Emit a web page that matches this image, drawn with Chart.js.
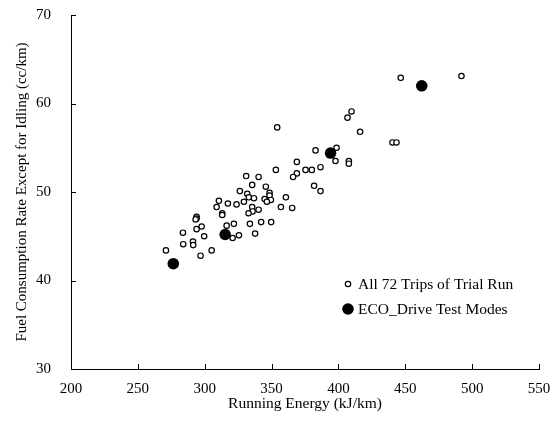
<!DOCTYPE html>
<html>
<head>
<meta charset="utf-8">
<script src="https://cdn.jsdelivr.net/npm/chart.js@4"></script>
<style>
    html, body { margin: 0; padding: 0; background: #fff; }
    #wrap { width: 556px; height: 425px; position: relative; }
</style>
</head>
<body>
<div id="wrap"><canvas id="chart"></canvas></div>
<script>
// all trips of the trial run (running energy kJ/km, fuel cc/km)
const tripX = [354.2, 382.9, 398.6, 397.8, 368.9, 353.2, 375.4, 380.1, 386.6, 368.9,
    366.1, 331.0, 340.3, 335.5, 345.7, 326.3, 331.8, 348.5, 348.5, 333.0,
    336.8, 344.8, 349.5, 346.5, 360.7, 310.6, 317.3, 323.8, 329.3, 308.9,
    335.5, 340.3, 335.8, 332.8, 357.0, 365.4, 313.1, 313.1, 293.9, 293.9,
    293.2, 297.7, 293.9, 316.4, 321.8, 333.8, 342.2, 349.7, 283.7, 299.6,
    320.9, 325.6, 337.7, 283.9, 291.2, 291.4, 305.2, 271.0, 296.9, 381.8,
    386.6, 409.8, 406.8, 416.2, 407.8, 407.8, 440.4, 443.4, 446.6, 492.0];
const tripY = [57.3, 54.7, 55.0, 53.5, 53.4, 52.5, 52.5, 52.5, 52.8, 52.1,
    51.7, 51.8, 51.7, 50.8, 50.6, 50.1, 49.8, 49.9, 49.6, 49.4,
    49.3, 49.2, 49.1, 48.9, 49.4, 49.0, 48.7, 48.6, 48.9, 48.3,
    48.3, 48.0, 47.8, 47.6, 48.3, 48.2, 47.6, 47.4, 47.2, 47.0,
    46.9, 46.1, 45.8, 46.2, 46.4, 46.4, 46.6, 46.6, 45.4, 45.0,
    44.8, 45.1, 45.3, 44.1, 44.4, 44.0, 43.4, 43.4, 42.8, 50.7,
    50.1, 59.1, 58.4, 56.8, 53.5, 53.2, 55.6, 55.6, 62.9, 63.1];

// ECO drive test modes
const ecoX = [276.5, 315.3, 394.1, 462.3];
const ecoY = [41.9, 45.2, 54.4, 62.0];

const xTicks = [200, 250, 300, 350, 400, 450, 500, 550];
const yTicks = [30, 40, 50, 60, 70];
const seriesNames = ['All 72 Trips of Trial Run', 'ECO_Drive Test Modes'];

const serif = 'Liberation Serif, Times New Roman, serif';

// ticks in this chart point into the plot area
const innerTicks = {
    id: 'innerTicks',
    afterDraw(chart) {
        const ctx = chart.ctx;
        const x = chart.scales.x, y = chart.scales.y;
        ctx.save();
        ctx.strokeStyle = '#000';
        ctx.lineWidth = 1;
        ctx.beginPath();
        xTicks.forEach(v => {
            const px = Math.round(x.getPixelForValue(v)) + 0.5;
            ctx.moveTo(px, y.bottom);
            ctx.lineTo(px, y.bottom - 5);
        });
        yTicks.forEach(v => {
            const py = Math.round(y.getPixelForValue(v)) + 0.5;
            ctx.moveTo(x.left, py);
            ctx.lineTo(x.left + 5, py);
        });
        ctx.stroke();
        ctx.restore();
    }
};

// legend sits inside the plot, lower right
const innerLegend = {
    id: 'innerLegend',
    afterDraw(chart) {
        const ctx = chart.ctx;
        const area = chart.chartArea;
        const mx = area.left + 277, tx = area.left + 287;
        const rows = [area.top + 269, area.top + 294];
        ctx.save();
        ctx.font = '15.5px ' + serif;
        ctx.textBaseline = 'middle';
        ctx.fillStyle = '#000';
        chart.data.datasets.forEach((ds, i) => {
            ctx.beginPath();
            ctx.arc(mx, rows[i], ds.pointRadius, 0, Math.PI * 2);
            ctx.fillStyle = ds.pointBackgroundColor;
            ctx.fill();
            ctx.lineWidth = ds.pointBorderWidth;
            ctx.strokeStyle = ds.pointBorderColor;
            if (ds.pointBorderWidth) ctx.stroke();
            ctx.fillStyle = '#000';
            ctx.fillText(ds.label, tx, rows[i] + 1);
        });
        ctx.restore();
    }
};

// hidden outer tick marks only serve as label offset
const hiddenGrid = len => ({
    display: true,
    drawOnChartArea: false,
    drawTicks: true,
    tickLength: len,
    tickColor: 'rgba(0,0,0,0)'
});

const ctx = document.getElementById('chart').getContext('2d');
new Chart(ctx, {
    type: 'scatter',
    data: {
        datasets: [{
            label: seriesNames[0],
            data: tripX.map((v, i) => ({ x: v, y: tripY[i] })),
            pointRadius: 2.7,
            pointBackgroundColor: '#fff',
            pointBorderColor: '#000',
            pointBorderWidth: 1.2
        }, {
            label: seriesNames[1],
            data: ecoX.map((v, i) => ({ x: v, y: ecoY[i] })),
            pointRadius: 5.8,
            pointBackgroundColor: '#000',
            pointBorderColor: '#000',
            pointBorderWidth: 0
        }]
    },
    options: {
        responsive: true,
        maintainAspectRatio: false,
        animation: false,
        layout: { padding: { top: 15, right: 17, left: 0, bottom: 0 } },
        plugins: {
            legend: { display: false },
            tooltip: { enabled: false }
        },
        scales: {
            x: {
                type: 'linear',
                min: xTicks[0],
                max: xTicks[xTicks.length - 1],
                afterFit: s => { s.height = 56; },
                afterBuildTicks: s => { s.ticks = xTicks.map(v => ({ value: v })); },
                grid: hiddenGrid(11),
                border: { display: true, color: '#000', width: 1 },
                ticks: { color: '#000', padding: 0, font: { family: serif, size: 15 }, maxRotation: 0 },
                title: {
                    display: true,
                    text: 'Running Energy (kJ/km)',
                    color: '#000',
                    font: { family: serif, size: 15.5 },
                    padding: { top: 0, bottom: 12 }
                }
            },
            y: {
                type: 'linear',
                min: yTicks[0],
                max: yTicks[yTicks.length - 1],
                afterFit: s => { s.width = 71; },
                afterBuildTicks: s => { s.ticks = yTicks.map(v => ({ value: v })); },
                grid: hiddenGrid(20),
                border: { display: true, color: '#000', width: 1 },
                ticks: { color: '#000', padding: 0, font: { family: serif, size: 15 } },
                title: {
                    display: true,
                    text: 'Fuel Consumption Rate Except for Idling (cc/km)',
                    color: '#000',
                    font: { family: serif, size: 15 },
                    padding: { top: 13, bottom: 0 }
                }
            }
        }
    },
    plugins: [innerTicks, innerLegend]
});
</script>
</body>
</html>
